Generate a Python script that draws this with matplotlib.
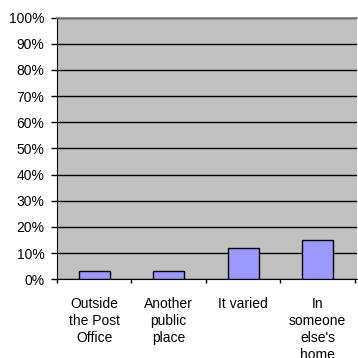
import numpy as np
import matplotlib.pyplot as plt
from matplotlib.ticker import FixedLocator, PercentFormatter

plt.rcParams['font.family'] = ['Liberation Sans', 'DejaVu Sans']

categories = ['Outside\nthe Post\nOffice', 'Another\npublic\nplace', 'It varied',
              "In\nsomeone\nelse's\nhome"]
values = [3, 3, 12, 15]

fig = plt.figure(figsize=(3.58, 3.58), dpi=100)
ax = fig.add_axes([57 / 358, 1 - 279.3 / 358, 300 / 358, (279.3 - 17.5) / 358])
ax.set_facecolor('#C0C0C0')

x = np.arange(len(categories))
ax.bar(x, values, width=0.41, color='#9999FF', edgecolor='black', linewidth=1, zorder=3)

ax.set_ylim(0, 100)
ax.set_xlim(-0.5, 3.527)
ax.set_yticks(np.arange(0, 101, 10))
ax.yaxis.set_major_formatter(PercentFormatter(decimals=0))
ax.yaxis.grid(True, color='black', linewidth=1, zorder=1)
ax.set_axisbelow(True)

ax.set_xticks(x)
ax.set_xticklabels(categories, fontsize=10, linespacing=1.25, va='top')
ax.xaxis.set_minor_locator(FixedLocator(np.arange(-0.5, 4, 1.0)))
ax.tick_params(axis='x', which='major', length=0, pad=13)
ax.tick_params(axis='x', which='minor', length=3, width=1, direction='out')
ax.tick_params(axis='y', labelsize=10, length=4, width=1, pad=5)

ax.spines['right'].set_visible(False)
ax.spines['top'].set_color('#808080')
ax.spines['top'].set_linewidth(1.2)
ax.spines['left'].set_color('black')
ax.spines['bottom'].set_color('black')

plt.savefig('out.png', dpi=100)
